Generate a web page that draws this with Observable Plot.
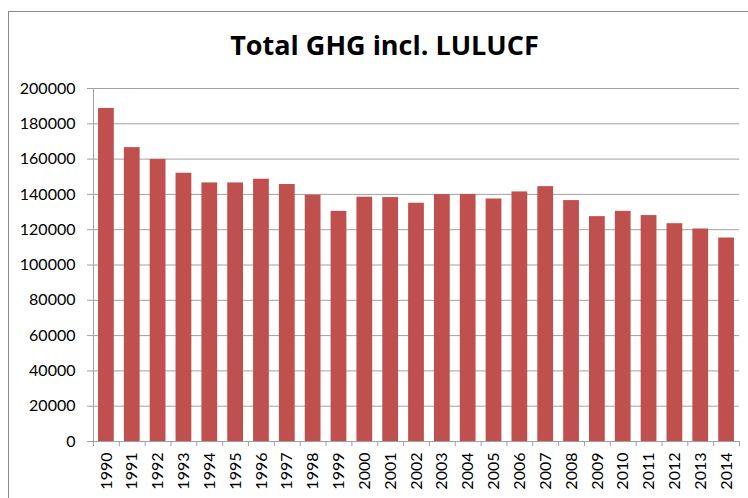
<!DOCTYPE html>
<html>
<head>
<meta charset="utf-8">
<script src="https://cdn.jsdelivr.net/npm/d3@7"></script>
<script src="https://cdn.jsdelivr.net/npm/@observablehq/plot@0.6"></script>
<style>
  html, body { margin: 0; padding: 0; background: #fff; overflow: hidden; }
  #wrap { position: relative; width: 748px; height: 498px; overflow: hidden; }
  #border { position: absolute; left: 8px; top: 11px; width: 900px; height: 700px;
            border-left: 1px solid #8a8a8a; border-top: 1px solid #8a8a8a; pointer-events: none; }
  #chart { position: absolute; left: 0; top: 0; }
</style>
</head>
<body>
<div id="wrap">
  <div id="chart"></div>
  <div id="border"></div>
</div>
<script>
const title = "Total GHG incl. LULUCF";
const years = ["1990","1991","1992","1993","1994","1995","1996","1997","1998","1999",
               "2000","2001","2002","2003","2004","2005","2006","2007","2008","2009",
               "2010","2011","2012","2013","2014"];
const values = [188700, 166500, 159800, 152000, 146500, 146500, 148600, 145600, 139500, 130400,
                138400, 138200, 135000, 139900, 140000, 137400, 141400, 144400, 136500, 127400,
                130400, 128000, 123400, 120400, 115300];
const yTicks = [0, 20000, 40000, 60000, 80000, 100000, 120000, 140000, 160000, 180000, 200000];

const data = years.map((year, i) => ({year, value: values[i]}));

const W = 748, H = 498, ML = 93, MR = 9, MT = 88, MB = 57;
const FW = W - ML - MR, FH = H - MT - MB;
const step = FW / years.length;
const font = "Lato, 'Open Sans', sans-serif";
const grid = "#a0a0a0";

const chart = Plot.plot({
  width: W,
  height: H,
  marginLeft: ML,
  marginRight: MR,
  marginTop: MT,
  marginBottom: MB,
  style: {background: "#fff", fontFamily: font, fontSize: "16px", color: "#000", overflow: "visible"},
  x: {domain: years, paddingInner: 0.39, paddingOuter: 0.195, round: false, label: null,
      tickRotate: -90, tickSize: 0, tickPadding: 11},
  y: {domain: [0, 200000], label: null, ticks: yTicks, tickFormat: d => String(d),
      tickSize: 0, tickPadding: 18},
  marks: [
    Plot.ruleY(yTicks, {stroke: grid, strokeWidth: 1, insetLeft: -6}),
    Plot.ruleX([years[0]], {dx: -step / 2, stroke: grid}),
    Plot.barY(data, {x: "year", y: "value", fill: "#c0504d"}),
    Plot.ruleX(years, {dx: -step / 2, stroke: grid, insetTop: FH, insetBottom: -5}),
    Plot.ruleX([years[years.length - 1]], {dx: step / 2, stroke: grid, insetTop: FH, insetBottom: -5}),
    Plot.text([title], {frameAnchor: "top", text: d => d, dx: -32, dy: -53, fontSize: 27,
                        fontWeight: "bold", fill: "#000", fontFamily: "'Open Sans', Lato, sans-serif"})
  ]
});
document.getElementById("chart").appendChild(chart);
</script>
</body>
</html>
